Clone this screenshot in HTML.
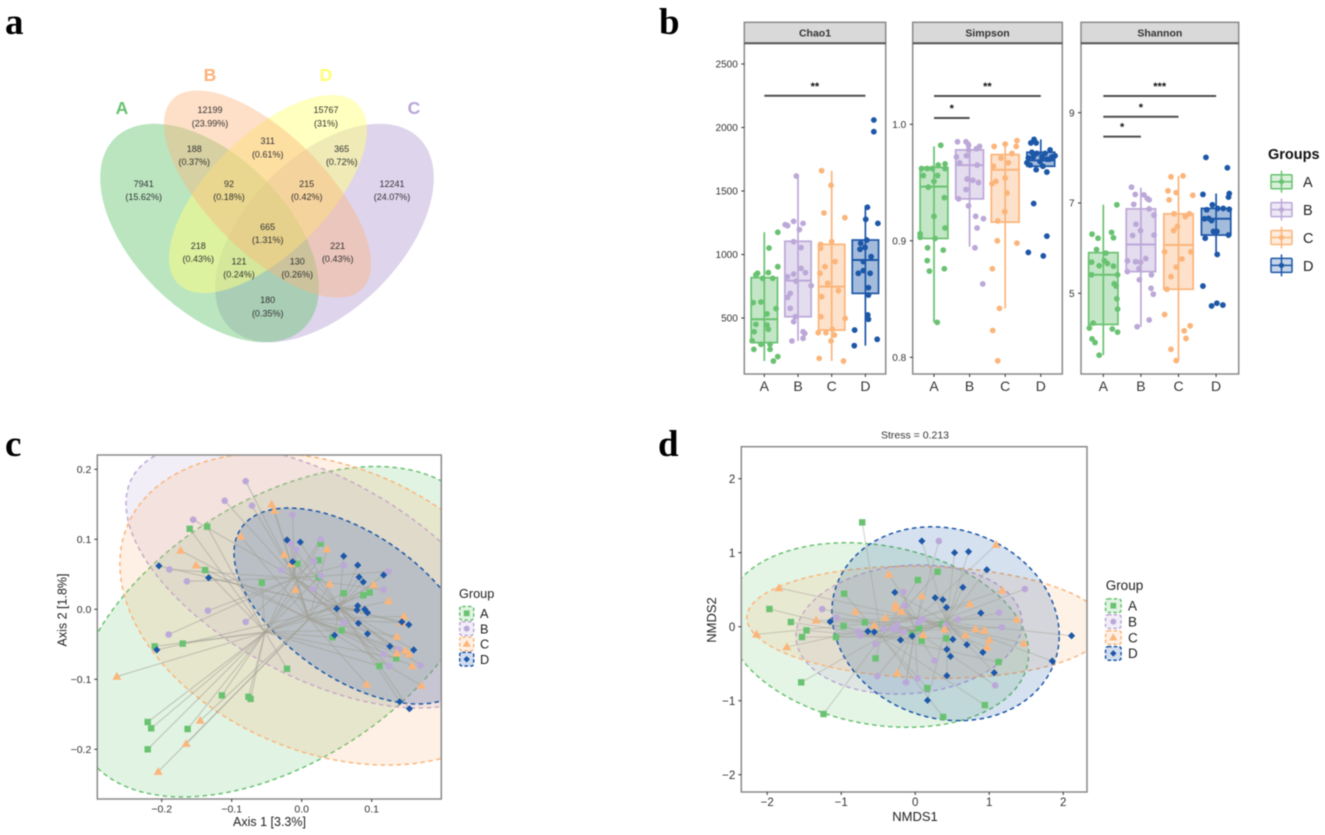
<!DOCTYPE html>
<html lang="en">
<head>
<meta charset="utf-8">
<title>Diversity figure</title>
<style>
html,body{margin:0;padding:0;background:#fff;}
svg{display:block;filter:blur(0.5px);}
text{font-family:"Liberation Sans",sans-serif;fill:#222;}
.letter{font-family:"Liberation Serif",serif;font-weight:bold;font-size:37px;fill:#000;}
.vt{font-size:9px;text-anchor:middle;fill:#333;}
.vl{font-size:17.5px;text-anchor:middle;font-weight:bold;}
</style>
</head>
<body>
<svg id="fig" xmlns="http://www.w3.org/2000/svg" width="1325" height="835" viewBox="0 0 1325 835">
  <rect x="0" y="0" width="1325" height="835" fill="#fff"/>
  <text class="letter" x="5" y="34">a</text>
  <text class="letter" x="659" y="34">b</text>
  <text class="letter" x="5" y="456">c</text>
  <text class="letter" x="658" y="456">d</text>

  <g>
    <ellipse cx="324.5" cy="233" rx="134" ry="77" transform="rotate(-45 324.5 233)" fill="#b9a6d8" fill-opacity="0.48"/>
    <ellipse cx="209.5" cy="233" rx="134" ry="77" transform="rotate(45 209.5 233)" fill="#6fc87a" fill-opacity="0.48"/>
    <ellipse cx="268" cy="194" rx="127" ry="59" transform="rotate(-45 268 194)" fill="#ffff80" fill-opacity="0.5"/>
    <ellipse cx="267.5" cy="194" rx="134" ry="59" transform="rotate(45 267.5 194)" fill="#fdb27a" fill-opacity="0.42"/>
    <text class="vl" x="122" y="114" style="fill:#68c072">A</text>
    <text class="vl" x="210" y="81" style="fill:#fdb27a">B</text>
    <text class="vl" x="326" y="81" style="fill:#ffff70">D</text>
    <text class="vl" x="414" y="114" style="fill:#b9a6d8">C</text>
    <g>
      <text class="vt" x="143.7" y="187">7941</text><text class="vt" x="143.7" y="200">(15.62%)</text>
      <text class="vt" x="210" y="113">12199</text><text class="vt" x="210" y="126.300">(23.99%)</text>
      <text class="vt" x="326" y="113">15767</text><text class="vt" x="326" y="126.300">(31%)</text>
      <text class="vt" x="392" y="187">12241</text><text class="vt" x="392" y="200">(24.07%)</text>
      <text class="vt" x="194.300" y="152">188</text><text class="vt" x="194.300" y="165">(0.37%)</text>
      <text class="vt" x="267.700" y="144">311</text><text class="vt" x="267.700" y="157.300">(0.61%)</text>
      <text class="vt" x="341.700" y="152">365</text><text class="vt" x="341.700" y="165">(0.72%)</text>
      <text class="vt" x="229" y="187">92</text><text class="vt" x="229" y="200">(0.18%)</text>
      <text class="vt" x="306.700" y="187">215</text><text class="vt" x="306.700" y="200">(0.42%)</text>
      <text class="vt" x="267.700" y="230">665</text><text class="vt" x="267.700" y="243">(1.31%)</text>
      <text class="vt" x="198.300" y="249">218</text><text class="vt" x="198.300" y="262">(0.43%)</text>
      <text class="vt" x="337.700" y="249">221</text><text class="vt" x="337.700" y="262">(0.43%)</text>
      <text class="vt" x="239" y="264.300">121</text><text class="vt" x="239" y="277.700">(0.24%)</text>
      <text class="vt" x="297.300" y="264.300">130</text><text class="vt" x="297.300" y="277.700">(0.26%)</text>
      <text class="vt" x="267.700" y="303">180</text><text class="vt" x="267.700" y="316.300">(0.35%)</text>
    </g>
  </g>
</svg>
<script>
/* ---------- shared ---------- */
const groupNames = ['A','B','C','D'];
const groupColors = ['#69c271','#bca8d8','#fbb57a','#1c57a8'];

/* ---------- panel b: box plots ---------- */
const chao1Ticks = [500,1000,1500,2000,2500];
const simpsonTicks = [0.8,0.9,1.0];
const shannonTicks = [5,7,9];

/* five-number summaries: low whisker, q1, median, q3, high whisker */
const chao1BoxA = [161,306,490,818,1175];
const chao1BoxB = [319,510,794,1104,1626];
const chao1BoxC = [161,405,747,1080,1658];
const chao1BoxD = [282,694,957,1114,1385];
const simpsonBoxA = [0.83,0.902,0.9465,0.963,0.981];
const simpsonBoxB = [0.895,0.936,0.965,0.978,0.985];
const simpsonBoxC = [0.842,0.916,0.961,0.974,0.985];
const simpsonBoxD = [0.964,0.964,0.969,0.976,0.987];
const shannonBoxA = [3.63,4.31,5.41,5.9,6.96];
const shannonBoxB = [4.26,5.48,6.08,6.87,7.34];
const shannonBoxC = [3.51,5.09,6.07,6.76,7.6];
const shannonBoxD = [5.86,6.29,6.65,6.88,7.21];

/* jittered samples: [jitter in category units, value] */
const chao1PointsA = [[.4,1175],[.14,1051],[.4,904],[-.2,852],[-.25,840],[.12,857],[-.05,812],[.25,812],[-.33,621],[-.1,626],[.35,574],[.08,532],[-.25,450],[.08,445],[.12,411],[-.3,392],[-.36,321],[-.1,293],[.17,293],[-.31,253],[.17,253],[.4,196],[.27,161]];
const chao1PointsB = [[-.05,1618],[.15,1245],[-.13,1261],[-.38,1235],[-.31,1227],[.04,1196],[-.13,1101],[.09,1054],[.09,891],[.22,857],[-.13,846],[-.31,825],[-.06,791],[.39,755],[-.23,694],[-.31,663],[-.23,576],[-.08,510],[-.13,471],[.15,392],[.2,379],[.15,340],[-.18,319]];
const chao1PointsC = [[-.3,1660],[-.02,1545],[-.23,1327],[.39,1290],[-.33,1080],[0,1101],[-.33,1049],[.1,944],[-.2,904],[-.35,852],[-.12,773],[.2,715],[-.3,668],[-.32,510],[.4,497],[-.4,384],[-.17,384],[.02,411],[.08,366],[-.02,319],[-.37,182],[.35,161]];
const chao1PointsD = [[.25,2059],[.25,1967],[.06,1372],[.01,1277],[.37,1245],[.04,1114],[-.14,1088],[-.16,1041],[-.01,1056],[.17,983],[-.06,944],[-.21,852],[-.06,873],[.14,852],[.09,739],[.09,681],[.07,524],[.09,490],[-.32,405],[-.33,282],[.35,332]];
const simpsonPointsA = [[.19,.982],[.31,.966],[.12,.965],[-.05,.962],[-.35,.962],[-.19,.962],[.31,.962],[-.3,.956],[.1,.956],[0,.951],[-.16,.946],[.29,.937],[0,.921],[.31,.911],[-.39,.906],[-.39,.903],[.03,.902],[-.18,.894],[.26,.892],[-.19,.883],[.29,.876],[-.13,.874],[.09,.83]];
const simpsonPointsB = [[-.34,.985],[-.1,.985],[-.03,.982],[.28,.981],[.19,.979],[-.03,.978],[-.37,.972],[-.09,.973],[-.28,.967],[.21,.965],[-.07,.953],[.09,.952],[.25,.95],[-.1,.944],[-.31,.936],[-.03,.93],[.17,.921],[.39,.919],[.21,.911],[.15,.894],[.37,.863]];
const simpsonPointsC = [[.33,.986],[0,.983],[-.31,.981],[.31,.981],[.19,.975],[-.12,.971],[.09,.967],[-.33,.964],[0,.954],[-.26,.951],[-.37,.949],[.05,.941],[-.01,.925],[-.21,.917],[-.22,.9],[.33,.898],[-.36,.876],[-.16,.842],[-.35,.823],[-.21,.797]];
const simpsonPointsD = [[-.19,.987],[-.28,.984],[-.13,.984],[-.11,.975],[.26,.978],[-.25,.976],[.4,.973],[.12,.975],[-.35,.971],[-.39,.967],[-.02,.968],[.24,.97],[-.3,.965],[-.13,.961],[.06,.964],[.17,.959],[.31,.972],[-.21,.972],[.03,.972],[.17,.97],[-.2,.932],[.17,.904],[-.35,.89],[.07,.887]];
const shannonPointsA = [[.36,6.96],[-.3,6.31],[-.14,6.22],[.22,6.35],[.27,6.23],[-.18,5.97],[.07,5.89],[-.31,5.69],[.03,5.72],[-.11,5.61],[.27,5.6],[.11,5.66],[-.31,5.41],[.38,5.41],[.29,5.21],[.34,5.16],[.36,4.88],[.38,4.65],[-.27,4.34],[-.37,4.23],[.24,4.21],[.38,4.14],[-.3,3.99],[-.22,3.91],[-.11,3.63]];
const shannonPointsB = [[-.25,7.35],[-.15,7.19],[.08,7.18],[.17,7.1],[.22,7.07],[-.19,6.97],[.22,6.87],[.35,6.73],[-.13,6.53],[-.01,6.39],[.35,6.29],[-.22,6.28],[-.36,5.72],[-.14,5.7],[-.01,5.69],[.13,5.77],[-.05,5.55],[-.36,5.48],[.28,5.41],[-.04,5.3],[.27,5.11],[.33,4.98],[.22,4.41],[-.1,4.26]];
const shannonPointsC = [[-.2,7.58],[.12,7.6],[-.28,7.27],[-.06,7.23],[.38,7.17],[-.25,7.07],[-.12,6.76],[.18,6.7],[.29,6.76],[-.03,6.48],[-.13,6.39],[-.37,5.92],[.33,5.92],[.09,5.76],[-.06,5.58],[-.2,5.37],[-.31,5.09],[-.37,4.53],[.31,4.28],[.15,4.17],[.2,4],[-.2,3.76],[-.06,3.51]];
const shannonPointsD = [[-.27,8.01],[.3,7.78],[-.35,7.19],[.35,7.21],[.33,7.13],[-.1,6.96],[.04,6.88],[.19,6.88],[.35,6.86],[-.25,6.85],[-.31,6.65],[-.2,6.66],[-.12,6.61],[.02,6.37],[-.07,6.37],[.33,6.29],[-.29,6.22],[.03,5.86],[-.35,5.16],[.02,4.78],[-.12,4.72],[.18,4.74]];

/* significance brackets: from group, to group, value, stars */
const chao1Sig = [['A','D',2250,'**']];
const simpsonSig = [['A','D',1.0243,'**'],['A','B',1.0054,'*']];
const shannonSig = [['A','D',9.37,'***'],['A','C',8.91,'*'],['A','B',8.47,'*']];

/* ---------- panel c: PCoA ---------- */
const pcoaXTicks = [-0.2,-0.1,0.0,0.1];
const pcoaYTicks = [-0.2,-0.1,0.0,0.1,0.2];
const pcoaA = [[-.16,.115],[-.135,.118],[-.138,.056],[-.057,.038],[-.21,-.053],[-.17,-.049],[-.021,-.085],[-.114,-.123],[-.076,-.125],[-.073,-.128],[-.22,-.161],[-.215,-.17],[-.163,-.171],[-.22,-.2],[.027,.094],[.024,.07],[-.006,.065],[.024,.046],[.06,.023],[.088,.02],[.097,.024],[.057,-.03],[.044,-.04],[.135,-.07],[.111,-.081]];
const pcoaB = [[-.08,.183],[-.11,.155],[-.071,.148],[-.155,.128],[-.189,.057],[-.164,.04],[-.134,-.002],[-.08,-.018],[-.19,-.036],[-.029,.056],[-.013,.135],[-.016,.094],[-.008,.085],[.027,.1],[.018,.069],[.027,.048],[.016,.029],[.06,.063],[.124,.054],[.117,.028],[.06,-.019],[.138,-.057],[.117,-.064],[.125,-.081],[.17,-.08]];
const pcoaC = [[-.043,.15],[-.039,.141],[-.087,.104],[-.173,.084],[-.151,.063],[-.264,-.096],[-.145,-.159],[-.165,-.192],[-.205,-.232],[-.025,.078],[-.015,.065],[.036,.086],[-.009,.028],[.04,.036],[.103,.035],[.124,.012],[.146,-.01],[.143,-.019],[.136,-.039],[.148,-.059],[.136,-.063],[.153,-.064],[.158,-.081],[.171,-.109],[.093,-.107]];
const pcoaD = [[-.204,.062],[-.133,.045],[-.207,-.058],[-.021,.099],[-.002,.096],[-.013,.068],[.06,.076],[.08,.063],[.082,.046],[.088,.039],[.117,.049],[.05,.001],[.08,.005],[.079,-.001],[.09,0],[.094,-.005],[.081,-.02],[.143,-.018],[.153,-.022],[.094,-.035],[.047,-.037],[.126,-.053],[.16,-.058],[.14,-.132],[.154,-.142]];
/* ellipses: centre x, centre y, sd x, sd y, correlation */
const pcoaEllipseA = [-.032,-.032,.293,.236,.47];
const pcoaEllipseB = [.019,.0476,.27,.1886,-.55];
const pcoaEllipseC = [.036,.0004,.2957,.2229,-.29];
const pcoaEllipseD = [.074,.0047,.1707,.14,-.541];

/* ---------- panel d: NMDS ---------- */
const nmdsXTicks = [-2,-1,0,1,2];
const nmdsYTicks = [-2,-1,0,1,2];
const nmdsA = [[-.716,1.41],[-.96,.446],[-1.97,.239],[-1.68,.063],[-.68,.059],[-.968,.009],[-1.468,-.05],[-1.53,-.14],[-1.07,-.14],[-.536,-.428],[-1.54,-.752],[-1.239,-1.18],[.302,.743],[.036,.63],[.369,.036],[.054,-.023],[.419,-.158],[.086,-.189],[1.126,-.477],[.162,-.829],[.941,-1.059],[.378,-1.22],[-.045,-.104]];
const nmdsB = [[-1.257,.239],[-1.063,.126],[-.77,-.068],[-.739,-.122],[-.536,-.234],[-.514,-.667],[-.126,-.752],[.032,-.698],[-.158,.468],[-.14,.284],[-.423,-.032],[-.306,-.032],[-.243,.023],[-.261,-.036],[-.153,-.068],[.041,.054],[.32,1.158],[.068,.081],[.104,.099],[.405,.023],[.581,.099],[1.13,.189],[1.171,-.009],[1.482,.509],[.261,-.459],[-.122,-.752],[1.081,-.793]];
const nmdsC = [[-1.842,.523],[-2.144,-.104],[-1.734,-.275],[-1.338,.086],[-.806,.203],[-.356,.707],[-.266,.297],[-.266,.248],[-.185,.203],[-.405,.122],[-.554,.014],[-.243,-.626],[1.095,1.108],[1.176,.491],[.09,.414],[.739,.306],[1.374,.099],[.396,-.036],[.676,-.113],[.815,-.032],[.937,-.05],[1,-.18],[.973,-.279],[1.468,-.225],[.108,-.113]];
const nmdsD = [[-1.149,.068],[-.64,-.063],[-.554,-.072],[-.275,.464],[-.198,-.18],[-.041,-.126],[.09,1.158],[.532,1],[.721,1.014],[.968,.77],[.644,.532],[.27,.392],[.374,.365],[.423,.261],[.887,.185],[.509,-.171],[.698,-.243],[.428,-.306],[.477,-.401],[.914,-.347],[1.851,-.464],[2.113,-.122],[.428,-.662],[1.068,-.622],[.167,-.995]];
const nmdsEllipseA = [-.516,-.112,2.05,1.247,-.2];
const nmdsEllipseB = [-.084,-.038,1.527,.872,.1];
const nmdsEllipseC = [.146,.06,2.42,.757,-.08];
const nmdsEllipseD = [.41,.04,1.536,1.31,-.12];

/* ---------- drawing ---------- */
const SVGNS = 'http://www.w3.org/2000/svg';
const fig = document.getElementById('fig');
function mk(parent, tag, attrs, txt){
  const e = document.createElementNS(SVGNS, tag);
  for (const k in attrs) e.setAttribute(k, attrs[k]);
  if (txt !== undefined) e.textContent = txt;
  parent.appendChild(e);
  return e;
}
function linear(d0,d1,r0,r1){ return v => r0 + (v-d0)*(r1-r0)/(d1-d0); }
function fmtTick(v, dec){ return v.toFixed(dec).replace('-','\u2212'); }

function drawTickY(g, x, y, label, size, gap){
  const t = mk(g,'line',{x1:x-3,x2:x,y1:y,y2:y,stroke:'#333','stroke-width':1});
  
  
  const l = mk(g,'text',{x:x-gap,y:y+size*0.36,'text-anchor':'end','font-size':size,style:'fill:#333'},label);
  
  
}
function drawTickX(g, x, y, label, size, off){
  const t = mk(g,'line',{x1:x,x2:x,y1:y,y2:y+3,stroke:'#333','stroke-width':1});
  
  
  const l = mk(g,'text',{x:x,y:y+off,'text-anchor':'middle','font-size':size,style:'fill:#333'},label);
  
  
}

function drawBoxPanel(cfg){
  const g = mk(fig,'g',{});
  
  
  const yS = linear(cfg.d0,cfg.d1,cfg.r0,cfg.r1);
  const xS = i => cfg.x0 + i*cfg.step;
  const panel = mk(g,'rect',{x:cfg.left,y:43,width:cfg.right-cfg.left,height:331,fill:'#fff',stroke:'#8a8a8a','stroke-width':1.5});
  
  
  const strip = mk(g,'rect',{x:cfg.left,y:22.3,width:cfg.right-cfg.left,height:21,fill:'#d9d9d9',stroke:'#8a8a8a','stroke-width':1.5});
  
  
  const sl = mk(g,'line',{x1:cfg.left,x2:cfg.right,y1:43.3,y2:43.3,stroke:'#555','stroke-width':2});
  
  
  const st = mk(g,'text',{x:(cfg.left+cfg.right)/2,y:36.5,'text-anchor':'middle','font-size':10.5,'font-weight':'bold',style:'fill:#333'},cfg.title);
  
  
  cfg.ticks.forEach(v => drawTickY(g,cfg.left,yS(v),cfg.fmt(v),10,6.5));
  cfg.boxes.forEach((b,i) => {
    const c = groupColors[i], cx = xS(i), hw = cfg.step*0.39;
    const bg = mk(g,'g',{});
    
    
    const wh = mk(bg,'line',{x1:cx,x2:cx,y1:yS(b[0]),y2:yS(b[4]),stroke:c,'stroke-width':1.7});
    
    
    const r = mk(bg,'rect',{x:cx-hw,y:yS(b[3]),width:hw*2,height:yS(b[1])-yS(b[3]),fill:c,'fill-opacity':0.4,stroke:c,'stroke-width':1.7});
    
    
    const m = mk(bg,'line',{x1:cx-hw,x2:cx+hw,y1:yS(b[2]),y2:yS(b[2]),stroke:c,'stroke-width':2});
    
    
    cfg.points[i].forEach(p => {
      const d = mk(bg,'circle',{cx:cx+p[0]*cfg.step,cy:yS(p[1]),r:2.9,fill:c});
      
      
    });
    drawTickX(g,cx,374,groupNames[i],14,17);
  });
  cfg.sig.forEach(s => {
    const a = xS(groupNames.indexOf(s[0])), b = xS(groupNames.indexOf(s[1])), y = yS(s[2]);
    const l = mk(g,'line',{x1:a,x2:b,y1:y,y2:y,stroke:'#4d4d4d','stroke-width':2});
    
    
    const t = mk(g,'text',{x:(a+b)/2,y:y-6,'text-anchor':'middle','font-size':11,'font-weight':'bold',style:'fill:#111'},s[3]);
    
    
  });
}

drawBoxPanel({name:'chao1',title:'Chao1',left:744.3,right:885.7,d0:500,d1:2500,r0:318,r1:64,x0:764.3,step:33.7,ticks:chao1Ticks,fmt:v=>String(v),
  boxes:[chao1BoxA,chao1BoxB,chao1BoxC,chao1BoxD],points:[chao1PointsA,chao1PointsB,chao1PointsC,chao1PointsD],sig:chao1Sig});
drawBoxPanel({name:'simpson',title:'Simpson',left:912.7,right:1062.3,d0:0.8,d1:1.0,r0:357.3,r1:124.3,x0:934,step:35.6,ticks:simpsonTicks,fmt:v=>v.toFixed(1),
  boxes:[simpsonBoxA,simpsonBoxB,simpsonBoxC,simpsonBoxD],points:[simpsonPointsA,simpsonPointsB,simpsonPointsC,simpsonPointsD],sig:simpsonSig});
drawBoxPanel({name:'shannon',title:'Shannon',left:1081,right:1238.7,d0:5,d1:9,r0:293.3,r1:112.7,x0:1103.3,step:37.6,ticks:shannonTicks,fmt:v=>String(v),
  boxes:[shannonBoxA,shannonBoxB,shannonBoxC,shannonBoxD],points:[shannonPointsA,shannonPointsB,shannonPointsC,shannonPointsD],sig:shannonSig});

/* Groups legend */
(function(){
  const g = mk(fig,'g',{});
  
  
  const t = mk(g,'text',{x:1268,y:159,'font-size':14.5,'font-weight':'bold',style:'fill:#111'},'Groups');
  
  
  groupNames.forEach((n,i) => {
    const cy = 181.7 + i*27.9, c = groupColors[i];
    const k = mk(g,'g',{});
    
    
    mk(k,'line',{x1:1281.5,x2:1281.5,y1:cy-11,y2:cy+11,stroke:c,'stroke-width':1.5});
    mk(k,'rect',{x:1271,y:cy-7,width:21,height:14,fill:c,'fill-opacity':.25,stroke:c,'stroke-width':1.5,rx:1});
    mk(k,'line',{x1:1271,x2:1292,y1:cy,y2:cy,stroke:c,'stroke-width':1.5});
    mk(k,'circle',{cx:1281.5,cy:cy,r:2.6,fill:c});
    mk(k,'text',{x:1303,y:cy+5.5,'font-size':14.5,style:'fill:#222'},n);
  });
})();

/* ordination panels */
function marker(g, i, x, y, scale){
  const c = groupColors[i]; const s = scale || 1; let e;
  if (i === 0) e = mk(g,'rect',{x:x-3.2*s,y:y-3.2*s,width:6.4*s,height:6.4*s,fill:c});
  else if (i === 1) e = mk(g,'circle',{cx:x,cy:y,r:3.3*s,fill:c});
  else if (i === 2) e = mk(g,'polygon',{points:(x-4.5*s)+','+(y+3.2*s)+' '+(x+4.5*s)+','+(y+3.2*s)+' '+x+','+(y-4.6*s),fill:c});
  else e = mk(g,'polygon',{points:x+','+(y-3.6*s)+' '+(x+3.6*s)+','+y+' '+x+','+(y+3.6*s)+' '+(x-3.6*s)+','+y,fill:c});
  return e;
}
function drawOrdination(cfg){
  const g = mk(fig,'g',{});
  
  
  const xS = linear(cfg.xd[0],cfg.xd[1],cfg.xr[0],cfg.xr[1]);
  const yS = linear(cfg.yd[0],cfg.yd[1],cfg.yr[0],cfg.yr[1]);
  const W = cfg.right-cfg.left, H = cfg.bottom-cfg.top;
  const defs = mk(g,'defs',{});
  const cp = mk(defs,'clipPath',{id:cfg.name+'-clip'});
  mk(cp,'rect',{x:cfg.left,y:cfg.top,width:W,height:H});
  const inner = mk(g,'g',{'clip-path':'url(#'+cfg.name+'-clip)'});
  
  
  cfg.ellipses.forEach((el,i) => {
    let d = '';
    const k = Math.sqrt(1-el[4]*el[4]);
    for (let j=0;j<=160;j++){
      const a = j/160*2*Math.PI;
      const px = xS(el[0]+el[2]*Math.cos(a));
      const py = yS(el[1]+el[3]*(el[4]*Math.cos(a)+k*Math.sin(a)));
      d += (j?'L':'M')+px.toFixed(2)+' '+py.toFixed(2);
    }
    const p = mk(inner,'path',{d:d+'Z',fill:groupColors[i],'fill-opacity':cfg.alpha,stroke:groupColors[i],'stroke-width':1.5,'stroke-dasharray':'4.5 3.5'});
    
    
  });
  cfg.series.forEach((pts,i) => {
    const mx = pts.reduce((a,p)=>a+p[0],0)/pts.length;
    const my = pts.reduce((a,p)=>a+p[1],0)/pts.length;
    pts.forEach(p => {
      const l = mk(inner,'line',{x1:xS(mx),y1:yS(my),x2:xS(p[0]),y2:yS(p[1]),stroke:'#a3a198','stroke-opacity':cfg.lineAlpha,'stroke-width':1.2});
      
      
    });
  });
  cfg.series.forEach((pts,i) => {
    pts.forEach(p => {
      const m = marker(inner,i,xS(p[0]),yS(p[1]));
      
      
    });
  });
  const frame = mk(g,'rect',{x:cfg.left,y:cfg.top,width:W,height:H,fill:'none',stroke:'#8a8a8a','stroke-width':1.5});
  
  
  cfg.yticks.forEach(v => drawTickY(g,cfg.left,yS(v),fmtTick(v,cfg.dec),cfg.tsize,6));
  cfg.xticks.forEach(v => drawTickX(g,xS(v),cfg.bottom,fmtTick(v,cfg.dec),cfg.tsize,cfg.xoff));
  const xt = mk(g,'text',{x:cfg.xtx,y:cfg.xty,'text-anchor':'middle','font-size':cfg.tt,style:'fill:#222'},cfg.xtitle);
  
  
  const yt = mk(g,'text',{x:0,y:0,'text-anchor':'middle','font-size':cfg.tt,style:'fill:#222',transform:'translate('+cfg.ytx+' '+cfg.yty+') rotate(-90)'},cfg.ytitle);
  
  
  const lg = mk(g,'g',{});
  
  
  const lt = mk(lg,'text',{x:cfg.lx,y:cfg.ly,'font-size':cfg.lf,style:'fill:#222'},'Group');
  
  
  groupNames.forEach((n,i) => {
    const cy = cfg.ky + i*cfg.kstep;
    const k = mk(lg,'g',{});
    
    
    mk(k,'rect',{x:cfg.kx-cfg.kw/2,y:cy-6.8,width:cfg.kw,height:13.6,rx:2.5,fill:groupColors[i],'fill-opacity':.2,stroke:groupColors[i],'stroke-width':1.5,'stroke-dasharray':'3.5 2.2'});
    marker(k,i,cfg.kx,cy,.9);
    mk(k,'text',{x:cfg.lbx,y:cy+4.8,'font-size':cfg.lf,style:'fill:#222'},n);
  });
}
drawOrdination({name:'pcoa',left:97.3,right:441.3,top:455,bottom:799,xd:[0,1],xr:[301.7,1001.7],yd:[0,1],yr:[609.3,-90.7],alpha:.2,lineAlpha:.52,
  ellipses:[pcoaEllipseA,pcoaEllipseB,pcoaEllipseC,pcoaEllipseD],series:[pcoaA,pcoaB,pcoaC,pcoaD],
  xticks:pcoaXTicks,yticks:pcoaYTicks,dec:1,tsize:10.5,xoff:13.5,xtitle:'Axis 1 [3.3%]',ytitle:'Axis 2 [1.8%]',tt:12.5,xtx:269.5,xty:826,ytx:66.5,yty:610,
  lx:459,ly:598,lf:12.7,kx:466.7,ky:613.3,kstep:15.3,kw:14,lbx:480});
drawOrdination({name:'nmds',left:741.3,right:1087,top:446.7,bottom:792,xd:[0,1],xr:[915.2,989.2],yd:[0,1],yr:[626.7,552.7],alpha:.18,lineAlpha:.42,
  ellipses:[nmdsEllipseA,nmdsEllipseB,nmdsEllipseC,nmdsEllipseD],series:[nmdsA,nmdsB,nmdsC,nmdsD],
  xticks:nmdsXTicks,yticks:nmdsYTicks,dec:0,tsize:11.5,xoff:14,xtitle:'NMDS1',ytitle:'NMDS2',tt:13,xtx:915,xty:821,ytx:716,yty:620,
  lx:1105.7,ly:590,lf:13.5,kx:1113.3,ky:605.7,kstep:15.9,kw:15.5,lbx:1128});
const stress = mk(fig,'text',{x:915,y:438.5,'text-anchor':'middle','font-size':10.5,style:'fill:#333'},'Stress = 0.213');


</script>
</body>
</html>
